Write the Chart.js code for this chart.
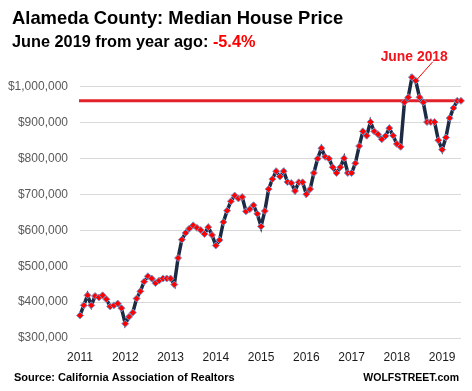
<!DOCTYPE html>
<html><head><meta charset="utf-8">
<script src="https://cdn.jsdelivr.net/npm/chart.js@4"></script>
<style>html,body{margin:0;padding:0;background:#fff}canvas{display:block}</style>
</head><body>
<canvas id="c" width="472" height="391"></canvas>
<script>
const titleText = 'Alameda County: Median House Price';
const subtitleText = 'June 2019 from year ago: ';
const subtitleChange = '-5.4%';
const sourceText = 'Source: California Association of Realtors';
const brandText = 'WOLFSTREET.com';
const annotationText = 'June 2018';
const annotationIndex = 89;
const yearLabels = ['2011','2012','2013','2014','2015','2016','2017','2018','2019'];
const yTicks = [300000,400000,500000,600000,700000,800000,900000,1000000];
const prices = [
  363000,391000,419000,391000,417000,413000,419000,408000,388000,391000,396000,383000,
  340000,359000,371000,410000,430000,457000,472000,466000,453000,460000,466000,466000,
  466000,449000,523000,574000,593000,605000,614000,607000,601000,590000,609000,587000,
  558000,573000,623000,655000,681000,697000,689000,693000,653000,659000,670000,646000,
  611000,654000,715000,743000,765000,750000,765000,735000,732000,710000,734000,734000,
  701000,715000,760000,800000,829000,805000,800000,776000,760000,776000,801000,760000,
  760000,787000,835000,876000,864000,902000,876000,868000,854000,863000,885000,864000,
  841000,833000,957000,971000,1027000,1017000,971000,957000,902000,902000,902000,851000,
  825000,859000,913000,941000,961000,961000
];
const labels = prices.map((v, i) => i % 12 === 0 ? yearLabels[i / 12] : '');
const FONT = 'Liberation Sans';
const fmt = v => '$' + String(v).replace(/\B(?=(\d{3})+(?!\d))/g, ',');

const refLine = {
  id: 'refLine',
  beforeDatasetsDraw(chart) {
    const {ctx, chartArea, scales} = chart;
    const y = scales.y.getPixelForValue(prices[prices.length - 1]);
    ctx.save();
    ctx.strokeStyle = '#e2222a';
    ctx.lineWidth = 3;
    ctx.beginPath();
    ctx.moveTo(chartArea.left - 1, y);
    ctx.lineTo(chartArea.right + 2, y);
    ctx.stroke();
    ctx.restore();
  }
};

const texts = {
  id: 'texts',
  afterDraw(chart) {
    const ctx = chart.ctx;
    ctx.save();
    ctx.textBaseline = 'alphabetic';
    ctx.fillStyle = '#000';
    ctx.font = 'bold 18.4px "' + FONT + '"';
    ctx.textAlign = 'left';
    ctx.fillText(titleText, 12, 23.5);
    ctx.font = 'bold 16.3px "' + FONT + '"';
    ctx.fillText(subtitleText, 12, 46.5);
    const w = ctx.measureText(subtitleText).width;
    ctx.fillStyle = '#ff0000';
    ctx.fillText(subtitleChange, 12 + w, 46.5);
    ctx.fillStyle = '#000';
    ctx.font = 'bold 11px "' + FONT + '"';
    ctx.fillText(sourceText, 14, 381);
    ctx.textAlign = 'right';
    ctx.font = 'bold 10.5px "' + FONT + '"';
    ctx.fillText(brandText, 459, 381);
    // annotation
    const pt = chart.getDatasetMeta(0).data[annotationIndex];
    ctx.strokeStyle = '#ff0000';
    ctx.lineWidth = 1;
    ctx.beginPath();
    ctx.moveTo(pt.x + 1, pt.y - 1);
    ctx.lineTo(pt.x + 17, pt.y - 19);
    ctx.stroke();
    ctx.fillStyle = '#f0141c';
    ctx.font = 'bold 13.9px "' + FONT + '"';
    ctx.textAlign = 'center';
    ctx.fillText(annotationText, pt.x - 1.5, pt.y - 20);
    ctx.restore();
  }
};

new Chart(document.getElementById('c'), {
  type: 'line',
  data: {
    labels: labels,
    datasets: [{
      data: prices,
      borderColor: '#1c2a44',
      borderWidth: 3.5,
      tension: 0,
      clip: false,
      pointStyle: 'rectRot',
      pointRadius: 3.5,
      pointBackgroundColor: '#ff0000',
      pointBorderColor: '#7a96cc',
      pointBorderWidth: 1
    }]
  },
  options: {
    responsive: false,
    animation: false,
    events: [],
    plugins: { legend: { display: false }, tooltip: { enabled: false }, title: { display: false } },
    layout: { padding: { top: 51, right: 11, bottom: 23, left: 0 } },
    scales: {
      x: {
        offset: false,
        grid: { display: false },
        border: { display: false },
        ticks: { autoSkip: false, maxRotation: 0, minRotation: 0, padding: 4, color: '#1a1a1a',
                 font: { family: FONT, size: 12 } },
        afterFit(s) { s.height = 30; }
      },
      y: {
        min: 300000,
        max: 1100000,
        afterBuildTicks(s) { s.ticks = yTicks.map(v => ({ value: v })); },
        afterFit(s) { s.width = 80; },
        grid: { color: '#d9d9d9', drawTicks: false, lineWidth: 1 },
        border: { display: false },
        ticks: { padding: 12, color: '#595959', font: { family: FONT, size: 12 }, callback: v => fmt(v) }
      }
    }
  },
  plugins: [refLine, texts]
});
</script>
</body></html>
